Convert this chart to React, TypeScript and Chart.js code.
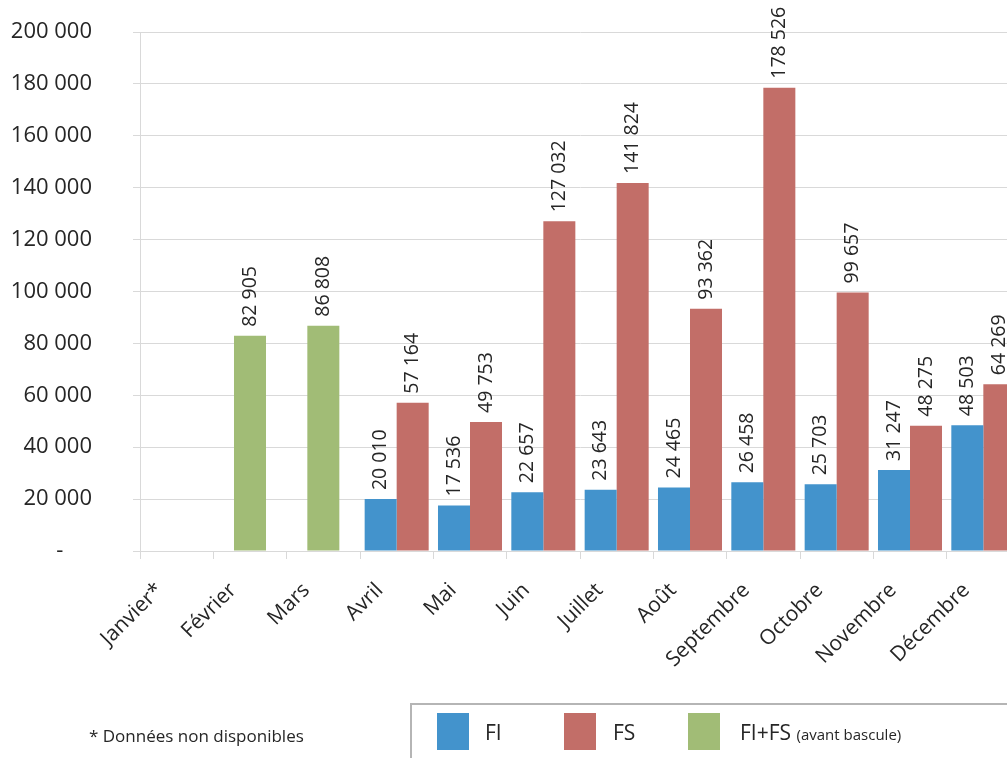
import React, { useEffect, useRef } from 'react';
import { Chart, registerables } from 'chart.js';

Chart.register(...registerables);

const months = ['Janvier*', 'Février', 'Mars', 'Avril', 'Mai', 'Juin', 'Juillet', 'Août', 'Septembre', 'Octobre', 'Novembre', 'Décembre'];
const fiValues = [null, null, null, 20010, 17536, 22657, 23643, 24465, 26458, 25703, 31247, 48503];
const fsValues = [null, null, null, 57164, 49753, 127032, 141824, 93362, 178526, 99657, 48275, 64269];
const fiFsValues = [null, 82905, 86808, null, null, null, null, null, null, null, null, null];
const yMax = 200000;
const yStep = 20000;

const FONT = '"Open Sans", "DejaVu Sans", sans-serif';
const TEXT = '#262626';
const GRID = '#d9d9d9';
const BLUE = '#4393cc';
const RED = '#c26e68';
const GREEN = '#a1bc76';

const fmt = (v: number) => String(v).replace(/\B(?=(\d{3})+(?!\d))/g, ' ');

const valueLabels = {
  id: 'valueLabels',
  afterDatasetsDraw(chart: any) {
    const ctx = chart.ctx;
    ctx.save();
    ctx.font = `19.5px ${FONT}`;
    ctx.fillStyle = TEXT;
    ctx.textAlign = 'left';
    ctx.textBaseline = 'middle';
    chart.data.datasets.forEach((ds: any, i: number) => {
      const meta = chart.getDatasetMeta(i);
      meta.data.forEach((el: any, j: number) => {
        const v = ds.data[j];
        if (v == null) return;
        ctx.save();
        ctx.translate(el.x, el.y - 9);
        ctx.rotate(-Math.PI / 2);
        ctx.fillText(fmt(v), 0, 0);
        ctx.restore();
      });
    });
    ctx.restore();
  },
};

export default function App() {
  const ref = useRef<HTMLCanvasElement | null>(null);

  useEffect(() => {
    if (!ref.current) return;
    const chart = new Chart(ref.current, {
      type: 'bar',
      data: {
        labels: months,
        datasets: [
          { label: 'FI', data: fiValues as any, backgroundColor: BLUE, barPercentage: 1, categoryPercentage: 0.873 },
          { label: 'FS', data: fsValues as any, backgroundColor: RED, barPercentage: 1, categoryPercentage: 0.873 },
          { label: 'FI+FS', data: fiFsValues as any, backgroundColor: GREEN, barPercentage: 0.5, categoryPercentage: 0.873 },
        ],
      },
      options: {
        responsive: false,
        animation: false,
        skipNull: true,
        layout: { padding: { top: 32, right: 2, left: 0, bottom: 0 } },
        plugins: { legend: { display: false }, tooltip: { enabled: false } },
        scales: {
          x: {
            grid: { drawOnChartArea: false, drawTicks: true, tickLength: 8, color: GRID },
            border: { color: GRID, width: 1 },
            ticks: {
              maxRotation: 45,
              minRotation: 45,
              autoSkip: false,
              padding: 19,
              labelOffset: -17,
              color: TEXT,
              font: { family: FONT, size: 21 },
            },
            afterFit(scale: any) { scale.height = 207; },
          },
          y: {
            min: 0,
            max: yMax,
            grid: { color: GRID, tickLength: 7, drawTicks: true },
            border: { color: GRID, width: 1 },
            ticks: {
              stepSize: yStep,
              padding: 41,
              color: TEXT,
              font: { family: FONT, size: 22 },
              callback: (v: any) => (v === 0 ? '-     ' : fmt(v)),
            },
            afterFit(scale: any) {
              scale.width = 140;
              scale.paddingTop = 14;
              scale.paddingBottom = 14;
            },
          },
        },
      } as any,
      plugins: [valueLabels],
    });
    (document as any).fonts?.ready?.then(() => chart.update());
    return () => chart.destroy();
  }, []);

  const legendText: React.CSSProperties = {
    position: 'absolute', top: 732, transform: 'translateY(-50%)', fontFamily: FONT, fontSize: 21, color: TEXT, whiteSpace: 'nowrap',
  };

  return (
    <div style={{ position: 'fixed', left: 0, top: 0, width: 1007, height: 758, overflow: 'hidden', background: '#fff' }}>
      <canvas ref={ref} width={1022} height={758} style={{ position: 'absolute', left: 0, top: 0, width: 1022, height: 758 }} />
      <div style={{ position: 'absolute', left: 89, top: 735, transform: 'translateY(-50%)', fontFamily: FONT, fontSize: 17, color: TEXT, whiteSpace: 'nowrap' }}>
        * Données non disponibles
      </div>
      <div style={{ position: 'absolute', left: 410, top: 703, width: 700, height: 100, borderLeft: '2px solid #b5b5b5', borderTop: '2px solid #b5b5b5' }} />
      <div style={{ position: 'absolute', left: 437, top: 713, width: 32, height: 37, background: BLUE }} />
      <div style={{ ...legendText, left: 485 }}>FI</div>
      <div style={{ position: 'absolute', left: 564, top: 713, width: 32, height: 37, background: RED }} />
      <div style={{ ...legendText, left: 613 }}>FS</div>
      <div style={{ position: 'absolute', left: 688, top: 713, width: 32, height: 37, background: GREEN }} />
      <div style={{ ...legendText, left: 740 }}>FI+FS <span style={{ fontSize: 15 }}>(avant bascule)</span></div>
    </div>
  );
}
